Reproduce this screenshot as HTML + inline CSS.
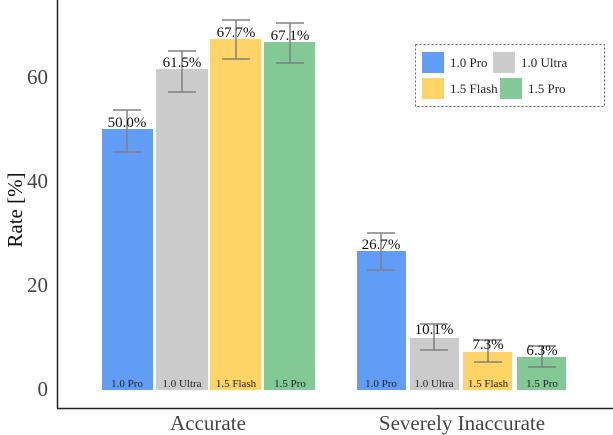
<!DOCTYPE html>
<html><head><style>body{margin:0;background:#fff}svg{display:block}</style></head><body>
<svg width="613" height="435" xmlns="http://www.w3.org/2000/svg" font-family="Liberation Serif, serif">
<line x1="57.5" y1="0" x2="57.5" y2="408.5" stroke="#222" stroke-width="1.5"/>
<line x1="57" y1="408.5" x2="613" y2="408.5" stroke="#222" stroke-width="1.5"/>
<g font-size="21" fill="#444" text-anchor="end">
<text x="48" y="396">0</text><text x="48" y="292">20</text><text x="48" y="188">40</text><text x="48" y="84">60</text>
</g>
<text transform="translate(22,210) rotate(-90)" font-size="21" fill="#111" text-anchor="middle">Rate [%]</text>
<g font-size="21" fill="#444" text-anchor="middle">
<text x="208" y="430">Accurate</text><text x="462" y="430">Severely Inaccurate</text>
</g>
<g>
<rect x="102" y="129" width="51" height="261" fill="#619cf6"/>
<rect x="156" y="69" width="52" height="321" fill="#cbcbcb"/>
<rect x="210" y="39" width="51" height="351" fill="#fdd465"/>
<rect x="264" y="42" width="51" height="348" fill="#82c995"/>
<rect x="357" y="251" width="49" height="139" fill="#619cf6"/>
<rect x="410" y="338" width="49" height="52" fill="#cbcbcb"/>
<rect x="463" y="352" width="49" height="38" fill="#fdd465"/>
<rect x="517" y="357" width="49" height="33" fill="#82c995"/>
</g>
<g stroke="#808080" stroke-width="1.5">
<path d="M127 110V152M113 110H141M113 152H141"/>
<path d="M182 51V92M168 51H196M168 92H196"/>
<path d="M236 20V59M222 20H250M222 59H250"/>
<path d="M290 23V63M276 23H304M276 63H304"/>
<path d="M381 233V270M367 233H395M367 270H395"/>
<path d="M434 324V350M420 324H448M420 350H448"/>
<path d="M488 340V362M474 340H502M474 362H502"/>
<path d="M542 346V367M528 346H556M528 367H556"/>
</g>
<g font-size="15" fill="#111" text-anchor="middle">
<text x="127" y="127">50.0%</text><text x="182" y="67">61.5%</text>
<text x="236" y="37">67.7%</text><text x="290" y="40">67.1%</text>
<text x="381" y="249">26.7%</text><text x="434" y="334">10.1%</text>
<text x="488" y="349">7.3%</text><text x="542" y="355">6.3%</text>
</g>
<g font-size="11" fill="#222" text-anchor="middle">
<text x="127" y="387">1.0 Pro</text><text x="182" y="387">1.0 Ultra</text>
<text x="236" y="387">1.5 Flash</text><text x="290" y="387">1.5 Pro</text>
<text x="381" y="387">1.0 Pro</text><text x="434" y="387">1.0 Ultra</text>
<text x="488" y="387">1.5 Flash</text><text x="542" y="387">1.5 Pro</text>
</g>
<rect x="415.5" y="44.5" width="189" height="62" fill="#fff" stroke="#666" stroke-dasharray="2,2"/>
<rect x="422" y="52" width="22" height="21" fill="#619cf6"/>
<rect x="493" y="52" width="22" height="21" fill="#cbcbcb"/>
<rect x="422" y="78" width="22" height="21" fill="#fdd465"/>
<rect x="500" y="78" width="22" height="21" fill="#82c995"/>
<g font-size="13" fill="#222">
<text x="450" y="67">1.0 Pro</text><text x="521" y="67">1.0 Ultra</text>
<text x="450" y="93">1.5 Flash</text><text x="528" y="93">1.5 Pro</text>
</g>
</svg>
</body></html>
